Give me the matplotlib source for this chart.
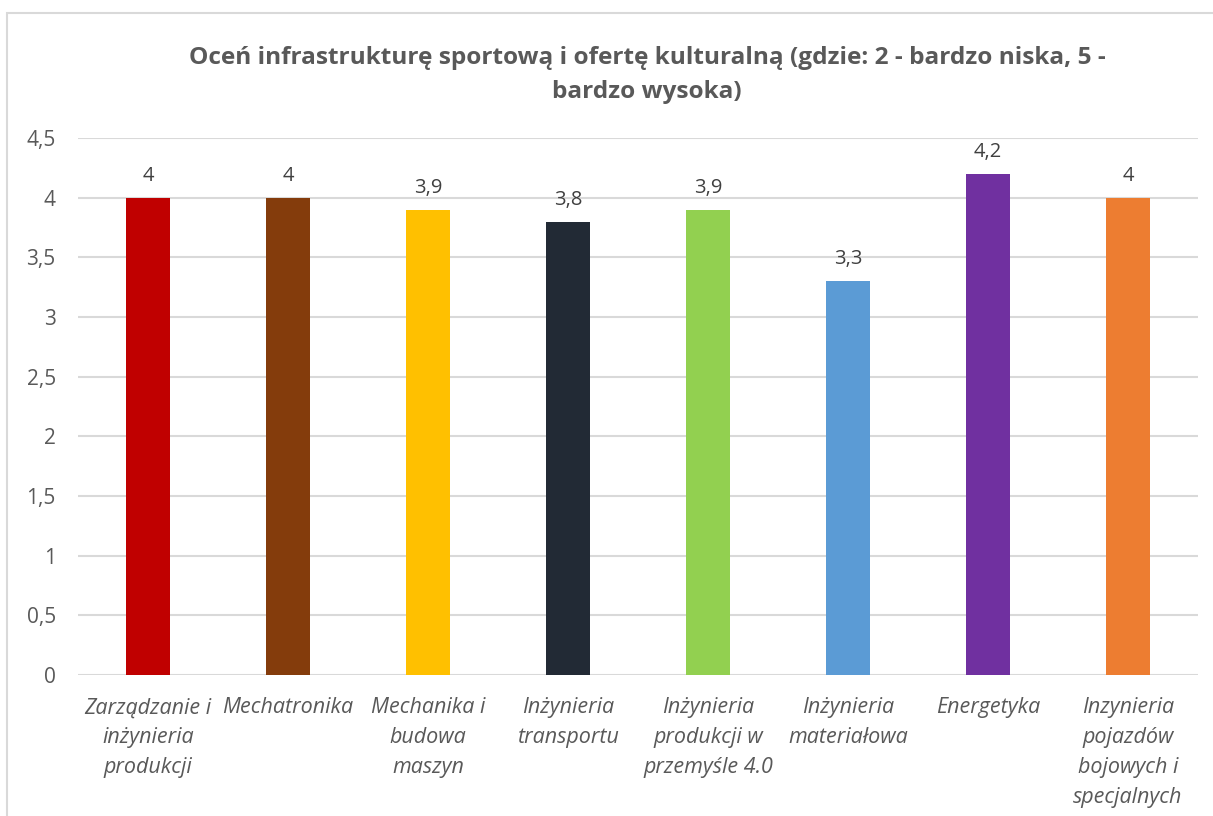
import matplotlib
matplotlib.use("Agg")
import matplotlib.pyplot as plt
from matplotlib.patches import Rectangle

categories = ["Zarządzanie i\ninżynieria\nprodukcji", "Mechatronika",
              "Mechanika i\nbudowa\nmaszyn", "Inżynieria\ntransportu",
              "Inżynieria\nprodukcji w\nprzemyśle 4.0", "Inżynieria\nmateriałowa",
              "Energetyka", "Inzynieria\npojazdów\nbojowych i\nspecjalnych"]
values = [4, 4, 3.9, 3.8, 3.9, 3.3, 4.2, 4]
colors = ["#C00000", "#843C0C", "#FFC000", "#222A35",
          "#92D050", "#5B9BD5", "#7030A0", "#ED7D31"]
yticks = [0, 0.5, 1, 1.5, 2, 2.5, 3, 3.5, 4, 4.5]

plt.rcParams['font.family'] = ['Open Sans', 'DejaVu Sans']
gray = "#595959"

W, H = 1213, 816
fig = plt.figure(figsize=(W / 100, H / 100), dpi=100)
fig.patches.append(Rectangle((7 / W, -0.05), 1.2, 1 - 13 / H + 0.05,
                             transform=fig.transFigure, fill=False,
                             edgecolor="#D9D9D9", linewidth=1.5))

ax = fig.add_axes([78 / W, 1 - 675 / H, (1198 - 78) / W, (675 - 138) / H])
x = range(len(categories))
bars = ax.bar(x, values, width=0.315, color=colors, zorder=3)
for xi, v in zip(x, values):
    ax.text(xi, v + 0.1, ("%g" % v).replace(".", ","), ha="center", va="bottom",
            fontsize=14.5, color="#404040")

ax.set_xlim(-0.5, len(categories) - 0.5)
ax.set_ylim(0, 4.5)
ax.set_yticks(yticks)
ax.set_yticklabels([("%g" % t).replace(".", ",") for t in yticks],
                   fontsize=15, color=gray)
ax.set_xticks(list(x))
ax.set_xticklabels(categories, fontsize=15.5, color=gray, style="italic",
                   linespacing=1.55, va="top")
ax.tick_params(axis="both", length=0)
ax.tick_params(axis="y", pad=16)
ax.tick_params(axis="x", pad=16)
ax.grid(axis="y", color="#D9D9D9", linewidth=1.5, zorder=0)
for s in ax.spines.values():
    s.set_visible(False)

fig.text(647 / W, 1 - 75 / H,
         "Oceń infrastrukturę sportową i ofertę kulturalną (gdzie: 2 - bardzo niska, 5 -\nbardzo wysoka)",
         ha="center", va="center", fontsize=17.6, fontweight="bold", color=gray,
         linespacing=1.5)

fig.savefig("out.png", dpi=100)
